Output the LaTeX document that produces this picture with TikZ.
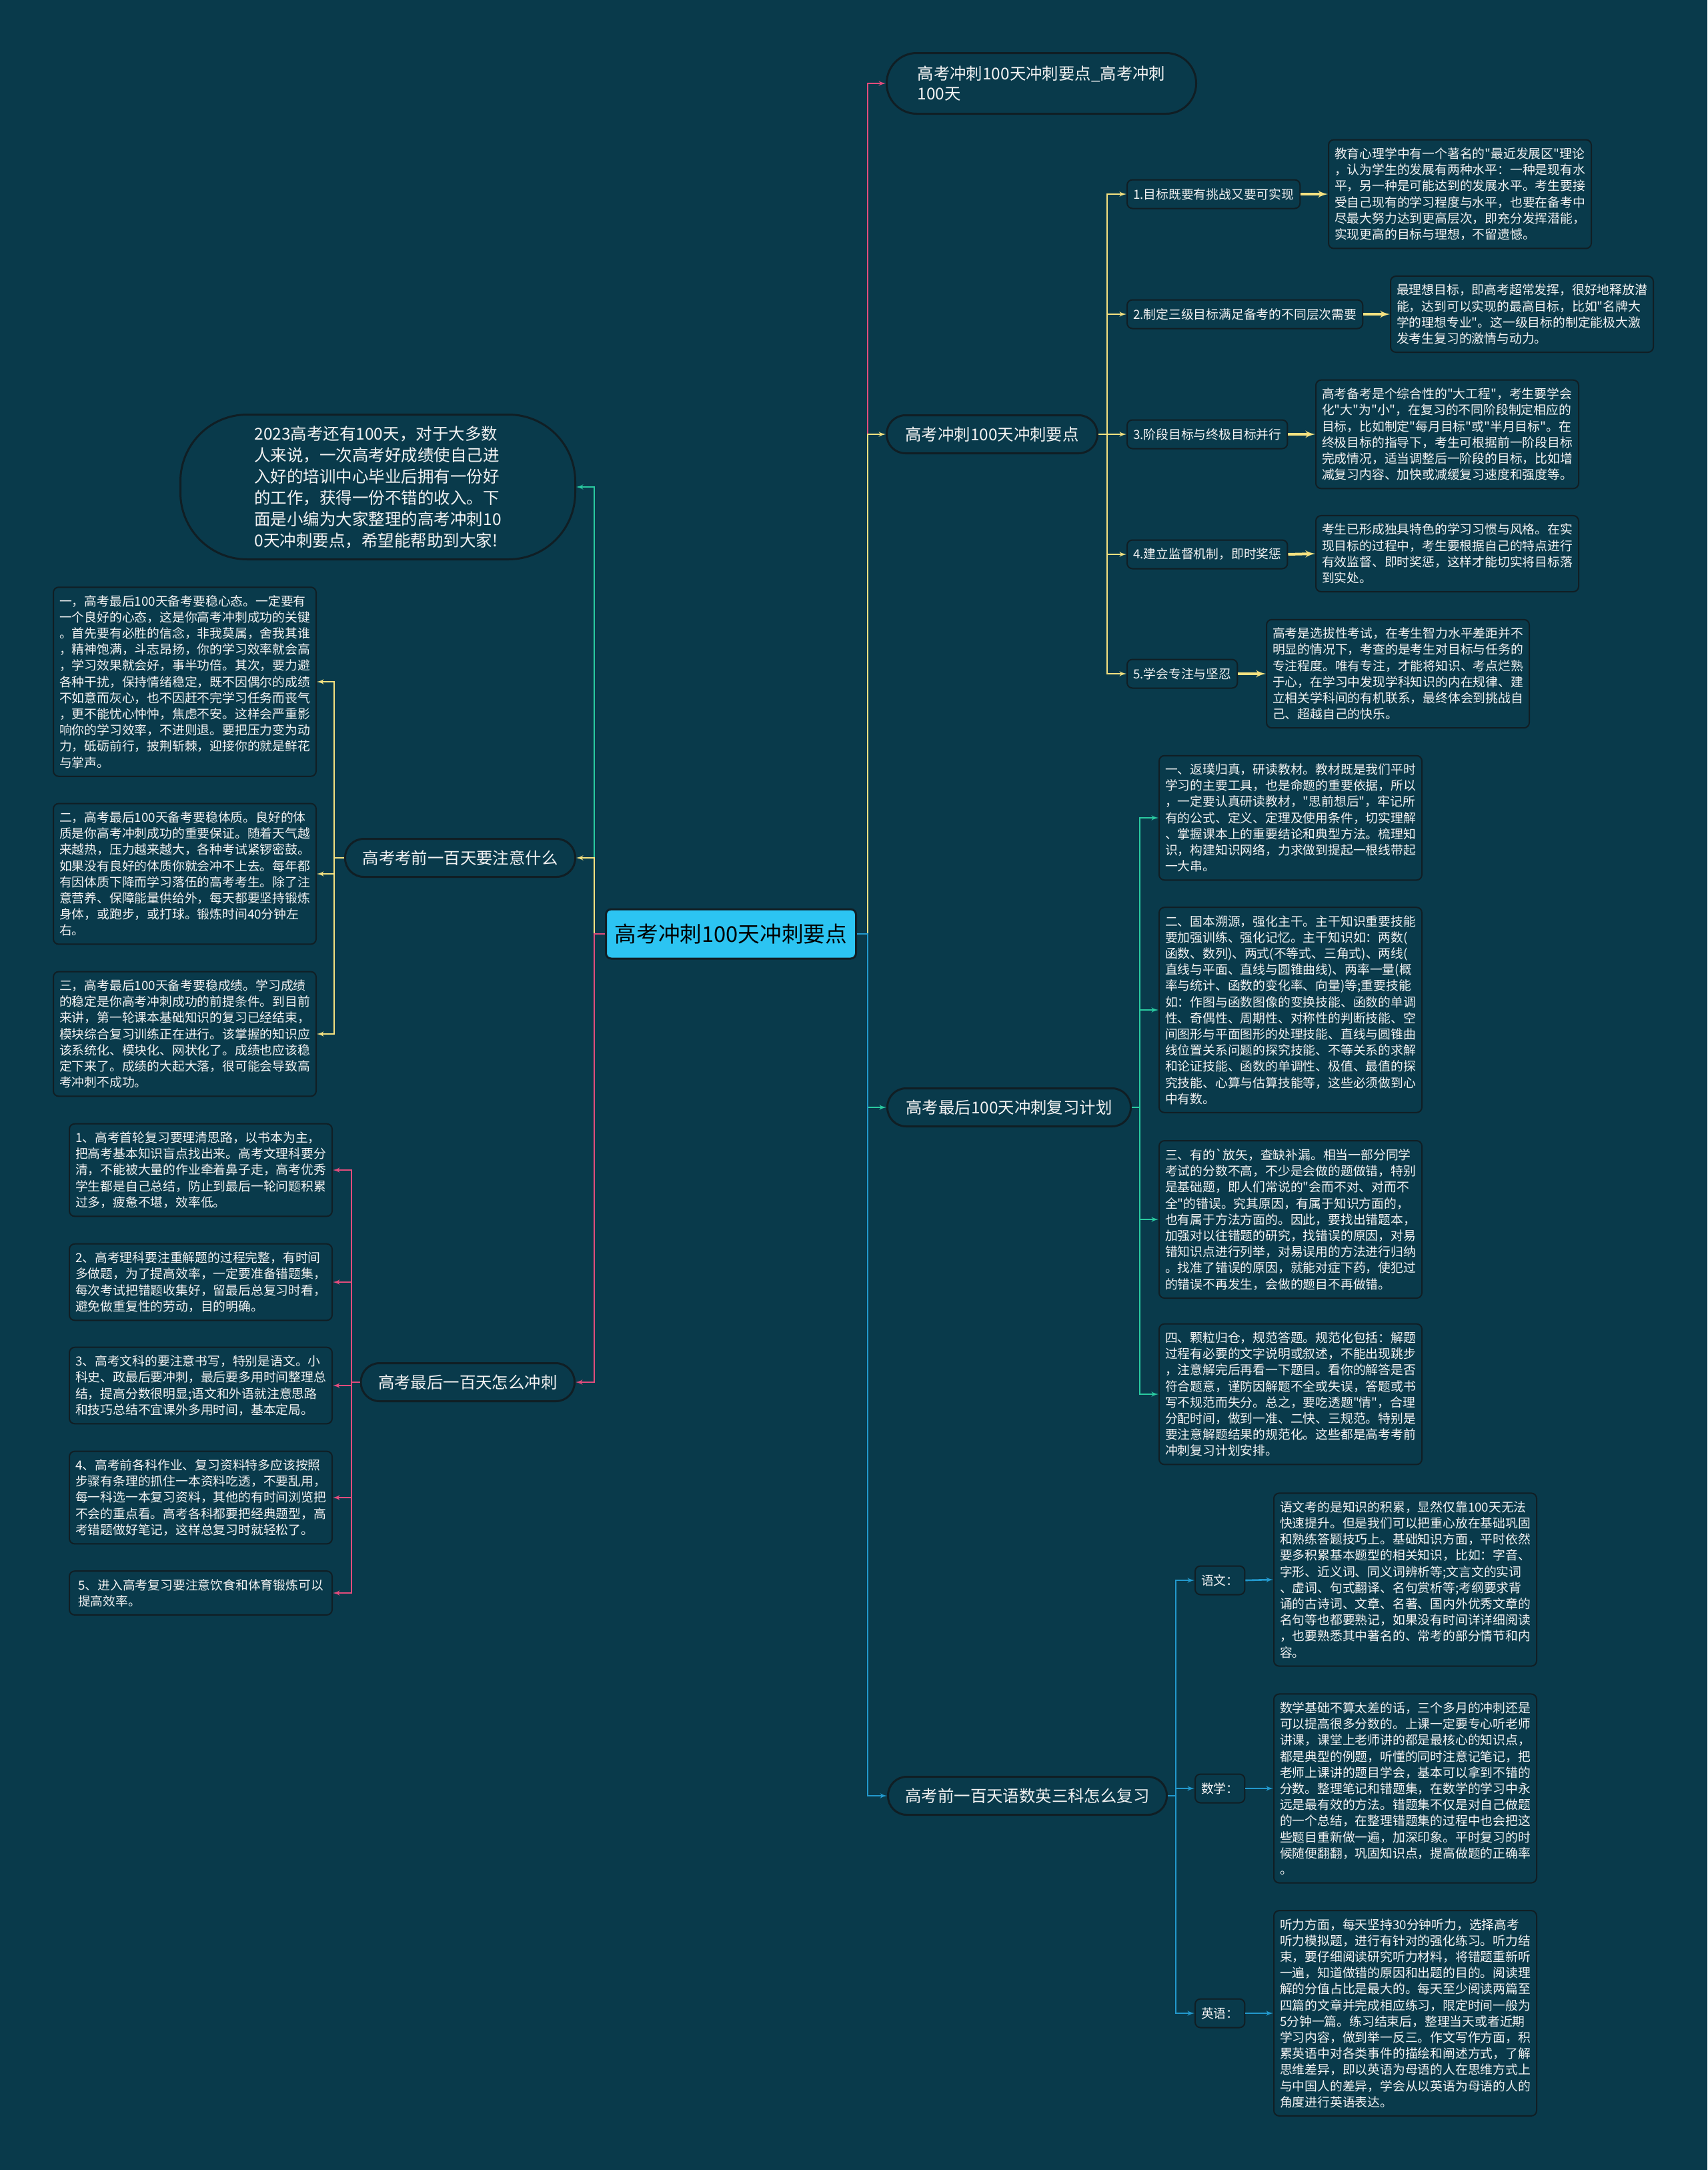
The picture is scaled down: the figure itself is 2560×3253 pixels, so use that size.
\documentclass[tikz,border=0pt]{standalone}
\usepackage{fontspec}
\newfontfamily\cjk{Noto Sans CJK SC}
\usepackage{tikz}
\usetikzlibrary{arrows}
\usepackage{xcolor}
\definecolor{pagebg}{RGB}{9,58,75}
\definecolor{edgedark}{RGB}{16,30,36}
\definecolor{rootcyan}{RGB}{44,196,242}
\definecolor{mappink}{RGB}{226,76,124}
\definecolor{mapyellow}{RGB}{246,226,128}
\definecolor{mapteal}{RGB}{42,202,160}
\definecolor{mapblue}{RGB}{34,152,204}
\definecolor{inktext}{RGB}{242,242,242}

\begin{document}
\begin{tikzpicture}[
    x=1pt, y=-1pt,
    rootnode/.style={
        rectangle,
        draw=edgedark,
        line width=3pt,
        fill=rootcyan,
        text=black,
        rounded corners=8pt,
        minimum width=375pt,
        minimum height=74pt,
        font=\cjk\fontsize{32.7pt}{40pt}\selectfont
    },
    branch/.style={
        rectangle,
        draw=edgedark,
        line width=3pt,
        fill=pagebg,
        text=inktext,
        rounded corners=28pt,
        minimum height=57pt,
        inner xsep=26pt,
        font=\cjk\fontsize{24.4pt}{30pt}\selectfont
    },
    tipbox/.style={
        rectangle,
        draw=edgedark,
        line width=2pt,
        fill=pagebg,
        text=inktext,
        rounded corners=8pt,
        minimum height=43pt,
        inner xsep=9pt,
        anchor=west,
        font=\cjk\fontsize{18.8pt}{24.2pt}\selectfont
    },
    textbox/.style={
        rectangle,
        draw=edgedark,
        line width=2pt,
        fill=pagebg,
        text=inktext,
        rounded corners=8pt,
        minimum width=394pt,
        inner xsep=8pt,
        inner ysep=12pt,
        align=left,
        font=\cjk\fontsize{18.8pt}{24.2pt}\selectfont
    },
    link/.style={draw, line width=2.6pt, -latex'},
    boldlink/.style={draw, line width=4pt, -latex'}
]

    % Fondo
    \fill[pagebg] (0,0) rectangle (2560,3253);

    % Nodes
    \node [rootnode] (root) at (1096,1400) {高考冲刺100天冲刺要点};

    \node [branch, anchor=west, align=left, minimum width=464pt, minimum height=91pt, rounded corners=45pt] (title) at (1328,125) {高考冲刺100天冲刺要点\_高考冲刺\\100天};
    \node [branch, anchor=west, minimum width=316pt] (goals) at (1328,651) {高考冲刺100天冲刺要点};
    \node [branch, anchor=west, minimum width=365pt] (plan) at (1329,1660) {高考最后100天冲刺复习计划};
    \node [branch, anchor=west, minimum width=417pt] (subjects) at (1330,2692) {高考前一百天语数英三科怎么复习};

    \node [branch, anchor=east, align=left, minimum width=592pt, minimum height=217pt, rounded corners=100pt, font=\cjk\fontsize{24.5pt}{32pt}\selectfont] (intro) at (864,730) {2023高考还有100天，对于大多数\\人来说，一次高考好成绩使自己进\\入好的培训中心毕业后拥有一份好\\的工作，获得一份不错的收入。下\\面是小编为大家整理的高考冲刺10\\0天冲刺要点，希望能帮助到大家!};
    \node [branch, anchor=east, minimum width=345pt] (attention) at (864,1286) {高考考前一百天要注意什么};
    \node [branch, anchor=east, minimum width=320pt] (sprint) at (863,2072) {高考最后一百天怎么冲刺};

    % Goals
    \node [tipbox] (aim1) at (1689,291) {1.目标既要有挑战又要可实现};
    \node [tipbox] (aim2) at (1689,471) {2.制定三级目标满足备考的不同层次需要};
    \node [tipbox] (aim3) at (1689,651) {3.阶段目标与终极目标并行};
    \node [tipbox] (aim4) at (1689,831) {4.建立监督机制，即时奖惩};
    \node [tipbox] (aim5) at (1689,1010) {5.学会专注与坚忍};

    \node [textbox, anchor=west] (aimtext1) at (1991,291) {教育心理学中有一个著名的"最近发展区"理论\\，认为学生的发展有两种水平：一种是现有水\\平，另一种是可能达到的发展水平。考生要接\\受自己现有的学习程度与水平，也要在备考中\\尽最大努力达到更高层次，即充分发挥潜能，\\实现更高的目标与理想，不留遗憾。};
    \node [textbox, anchor=west] (aimtext2) at (2084,471) {最理想目标，即高考超常发挥，很好地释放潜\\能，达到可以实现的最高目标，比如"名牌大\\学的理想专业"。这一级目标的制定能极大激\\发考生复习的激情与动力。};
    \node [textbox, anchor=west] (aimtext3) at (1972,651) {高考备考是个综合性的"大工程"，考生要学会\\化"大"为"小"，在复习的不同阶段制定相应的\\目标，比如制定"每月目标"或"半月目标"。在\\终极目标的指导下，考生可根据前一阶段目标\\完成情况，适当调整后一阶段的目标，比如增\\减复习内容、加快或减缓复习速度和强度等。};
    \node [textbox, anchor=west] (aimtext4) at (1972,830) {考生已形成独具特色的学习习惯与风格。在实\\现目标的过程中，考生要根据自己的特点进行\\有效监督、即时奖惩，这样才能切实将目标落\\到实处。};
    \node [textbox, anchor=west] (aimtext5) at (1898,1010) {高考是选拔性考试，在考生智力水平差距并不\\明显的情况下，考查的是考生对目标与任务的\\专注程度。唯有专注，才能将知识、考点烂熟\\于心，在学习中发现学科知识的内在规律、建\\立相关学科间的有机联系，最终体会到挑战自\\己、超越自己的快乐。};

    % Plan
    \node [textbox, anchor=west] (plan1) at (1737,1226) {一、返璞归真，研读教材。教材既是我们平时\\学习的主要工具，也是命题的重要依据，所以\\，一定要认真研读教材，"思前想后"，牢记所\\有的公式、定义、定理及使用条件，切实理解\\、掌握课本上的重要结论和典型方法。梳理知\\识，构建知识网络，力求做到提起一根线带起\\一大串。};
    \node [textbox, anchor=west] (plan2) at (1737,1514) {二、固本溯源，强化主干。主干知识重要技能\\要加强训练、强化记忆。主干知识如：两数(\\函数、数列)、两式(不等式、三角式)、两线(\\直线与平面、直线与圆锥曲线)、两率一量(概\\率与统计、函数的变化率、向量)等;重要技能\\如：作图与函数图像的变换技能、函数的单调\\性、奇偶性、周期性、对称性的判断技能、空\\间图形与平面图形的处理技能、直线与圆锥曲\\线位置关系问题的探究技能、不等关系的求解\\和论证技能、函数的单调性、极值、最值的探\\究技能、心算与估算技能等，这些必须做到心\\中有数。};
    \node [textbox, anchor=west] (plan3) at (1737,1828) {三、有的`放矢，查缺补漏。相当一部分同学\\考试的分数不高，不少是会做的题做错，特别\\是基础题，即人们常说的"会而不对、对而不\\全"的错误。究其原因，有属于知识方面的，\\也有属于方法方面的。因此，要找出错题本，\\加强对以往错题的研究，找错误的原因，对易\\错知识点进行列举，对易误用的方法进行归纳\\。找准了错误的原因，就能对症下药，使犯过\\的错误不再发生，会做的题目不再做错。};
    \node [textbox, anchor=west] (plan4) at (1737,2090) {四、颗粒归仓，规范答题。规范化包括：解题\\过程有必要的文字说明或叙述，不能出现跳步\\，注意解完后再看一下题目。看你的解答是否\\符合题意，谨防因解题不全或失误，答题或书\\写不规范而失分。总之，要吃透题"情"，合理\\分配时间，做到一准、二快、三规范。特别是\\要注意解题结果的规范化。这些都是高考考前\\冲刺复习计划安排。};

    % Subjects
    \node [tipbox] (chinese) at (1791,2369) {语文：};
    \node [tipbox] (math) at (1791,2681) {数学：};
    \node [tipbox] (english) at (1791,3018) {英语：};

    \node [textbox, anchor=west] (chinesetext) at (1909,2368) {语文考的是知识的积累，显然仅靠100天无法\\快速提升。但是我们可以把重心放在基础巩固\\和熟练答题技巧上。基础知识方面，平时依然\\要多积累基本题型的相关知识，比如：字音、\\字形、近义词、同义词辨析等;文言文的实词\\、虚词、句式翻译、名句赏析等;考纲要求背\\诵的古诗词、文章、名著、国内外优秀文章的\\名句等也都要熟记，如果没有时间详详细阅读\\，也要熟悉其中著名的、常考的部分情节和内\\容。};
    \node [textbox, anchor=west] (mathtext) at (1909,2681) {数学基础不算太差的话，三个多月的冲刺还是\\可以提高很多分数的。上课一定要专心听老师\\讲课，课堂上老师讲的都是最核心的知识点，\\都是典型的例题，听懂的同时注意记笔记，把\\老师上课讲的题目学会，基本可以拿到不错的\\分数。整理笔记和错题集，在数学的学习中永\\远是最有效的方法。错题集不仅是对自己做题\\的一个总结，在整理错题集的过程中也会把这\\些题目重新做一遍，加深印象。平时复习的时\\候随便翻翻，巩固知识点，提高做题的正确率\\。};
    \node [textbox, anchor=west] (englishtext) at (1909,3018) {听力方面，每天坚持30分钟听力，选择高考\\听力模拟题，进行有针对的强化练习。听力结\\束，要仔细阅读研究听力材料，将错题重新听\\一遍，知道做错的原因和出题的目的。阅读理\\解的分值占比是最大的。每天至少阅读两篇至\\四篇的文章并完成相应练习，限定时间一般为\\5分钟一篇。练习结束后，整理当天或者近期\\学习内容，做到举一反三。作文写作方面，积\\累英语中对各类事件的描绘和阐述方式，了解\\思维差异，即以英语为母语的人在思维方式上\\与中国人的差异，学会从以英语为母语的人的\\角度进行英语表达。};

    % Attention
    \node [textbox, anchor=east] (care1) at (475,1022) {一，高考最后100天备考要稳心态。一定要有\\一个良好的心态，这是你高考冲刺成功的关键\\。首先要有必胜的信念，非我莫属，舍我其谁\\，精神饱满，斗志昂扬，你的学习效率就会高\\，学习效果就会好，事半功倍。其次，要力避\\各种干扰，保持情绪稳定，既不因偶尔的成绩\\不如意而灰心，也不因赶不完学习任务而丧气\\，更不能忧心忡忡，焦虑不安。这样会严重影\\响你的学习效率，不进则退。要把压力变为动\\力，砥砺前行，披荆斩棘，迎接你的就是鲜花\\与掌声。};
    \node [textbox, anchor=east] (care2) at (475,1310) {二，高考最后100天备考要稳体质。良好的体\\质是你高考冲刺成功的重要保证。随着天气越\\来越热，压力越来越大，各种考试紧锣密鼓。\\如果没有良好的体质你就会冲不上去。每年都\\有因体质下降而学习落伍的高考考生。除了注\\意营养、保障能量供给外，每天都要坚持锻炼\\身体，或跑步，或打球。锻炼时间40分钟左\\右。};
    \node [textbox, anchor=east] (care3) at (475,1550) {三，高考最后100天备考要稳成绩。学习成绩\\的稳定是你高考冲刺成功的前提条件。到目前\\来讲，第一轮课本基础知识的复习已经结束，\\模块综合复习训练正在进行。该掌握的知识应\\该系统化、模块化、网状化了。成绩也应该稳\\定下来了。成绩的大起大落，很可能会导致高\\考冲刺不成功。};

    % Sprint
    \node [textbox, anchor=east] (tip1) at (499,1754) {1、高考首轮复习要理清思路，以书本为主，\\把高考基本知识盲点找出来。高考文理科要分\\清，不能被大量的作业牵着鼻子走，高考优秀\\学生都是自己总结，防止到最后一轮问题积累\\过多，疲惫不堪，效率低。};
    \node [textbox, anchor=east] (tip2) at (499,1922) {2、高考理科要注重解题的过程完整，有时间\\多做题，为了提高效率，一定要准备错题集，\\每次考试把错题收集好，留最后总复习时看，\\避免做重复性的劳动，目的明确。};
    \node [textbox, anchor=east] (tip3) at (499,2077) {3、高考文科的要注意书写，特别是语文。小\\科史、政最后要冲刺，最后要多用时间整理总\\结，提高分数很明显;语文和外语就注意思路\\和技巧总结不宜课外多用时间，基本定局。};
    \node [textbox, anchor=east] (tip4) at (499,2245) {4、高考前各科作业、复习资料特多应该按照\\步骤有条理的抓住一本资料吃透，不要乱用，\\每一科选一本复习资料，其他的有时间浏览把\\不会的重点看。高考各科都要把经典题型，高\\考错题做好笔记，这样总复习时就轻松了。};
    \node [textbox, anchor=east] (tip5) at (499,2388) {5、进入高考复习要注意饮食和体育锻炼可以\\提高效率。};

    % Junctions
    \coordinate (rfork) at (1301,1400);
    \coordinate (lfork) at (891,1400);
    \coordinate (gfork) at (1660,651);
    \coordinate (pfork) at (1709,1660);
    \coordinate (sfork) at (1763,2692);
    \coordinate (afork) at (501,1286);
    \coordinate (kfork) at (527,2072);

    % Connections
    \path [link, mappink] (root.east) -- (rfork) |- (title.west);
    \path [link, mapyellow] (root.east) -- (rfork) |- (goals.west);
    \path [link, mapteal] (root.east) -- (rfork) |- (plan.west);
    \path [link, mapblue] (root.east) -- (rfork) |- (subjects.west);

    \path [link, mapteal] (root.west) -- (lfork) |- (intro.east);
    \path [link, mapyellow] (root.west) -- (lfork) |- (attention.east);
    \path [link, mappink] (root.west) -- (lfork) |- (sprint.east);

    \path [link, mapyellow] (goals.east) -- (gfork) |- (aim1.west);
    \path [link, mapyellow] (goals.east) -- (gfork) |- (aim2.west);
    \path [link, mapyellow] (goals.east) -- (gfork) |- (aim3.west);
    \path [link, mapyellow] (goals.east) -- (gfork) |- (aim4.west);
    \path [link, mapyellow] (goals.east) -- (gfork) |- (aim5.west);
    \path [boldlink, mapyellow] (aim1.east) -- (aimtext1.west);
    \path [boldlink, mapyellow] (aim2.east) -- (aimtext2.west);
    \path [boldlink, mapyellow] (aim3.east) -- (aimtext3.west);
    \path [boldlink, mapyellow] (aim4.east) -- (aimtext4.west);
    \path [boldlink, mapyellow] (aim5.east) -- (aimtext5.west);

    \path [link, mapteal] (plan.east) -- (pfork) |- (plan1.west);
    \path [link, mapteal] (plan.east) -- (pfork) |- (plan2.west);
    \path [link, mapteal] (plan.east) -- (pfork) |- (plan3.west);
    \path [link, mapteal] (plan.east) -- (pfork) |- (plan4.west);

    \path [link, mapblue] (subjects.east) -- (sfork) |- (chinese.west);
    \path [link, mapblue] (subjects.east) -- (sfork) |- (math.west);
    \path [link, mapblue] (subjects.east) -- (sfork) |- (english.west);
    \path [link, mapblue] (chinese.east) -- (chinesetext.west);
    \path [link, mapblue] (math.east) -- (mathtext.west);
    \path [link, mapblue] (english.east) -- (englishtext.west);

    \path [link, mapyellow] (attention.west) -- (afork) |- (care1.east);
    \path [link, mapyellow] (attention.west) -- (afork) |- (care2.east);
    \path [link, mapyellow] (attention.west) -- (afork) |- (care3.east);

    \path [link, mappink] (sprint.west) -- (kfork) |- (tip1.east);
    \path [link, mappink] (sprint.west) -- (kfork) |- (tip2.east);
    \path [link, mappink] (sprint.west) -- (kfork) |- (tip3.east);
    \path [link, mappink] (sprint.west) -- (kfork) |- (tip4.east);
    \path [link, mappink] (sprint.west) -- (kfork) |- (tip5.east);

\end{tikzpicture}
\end{document}
